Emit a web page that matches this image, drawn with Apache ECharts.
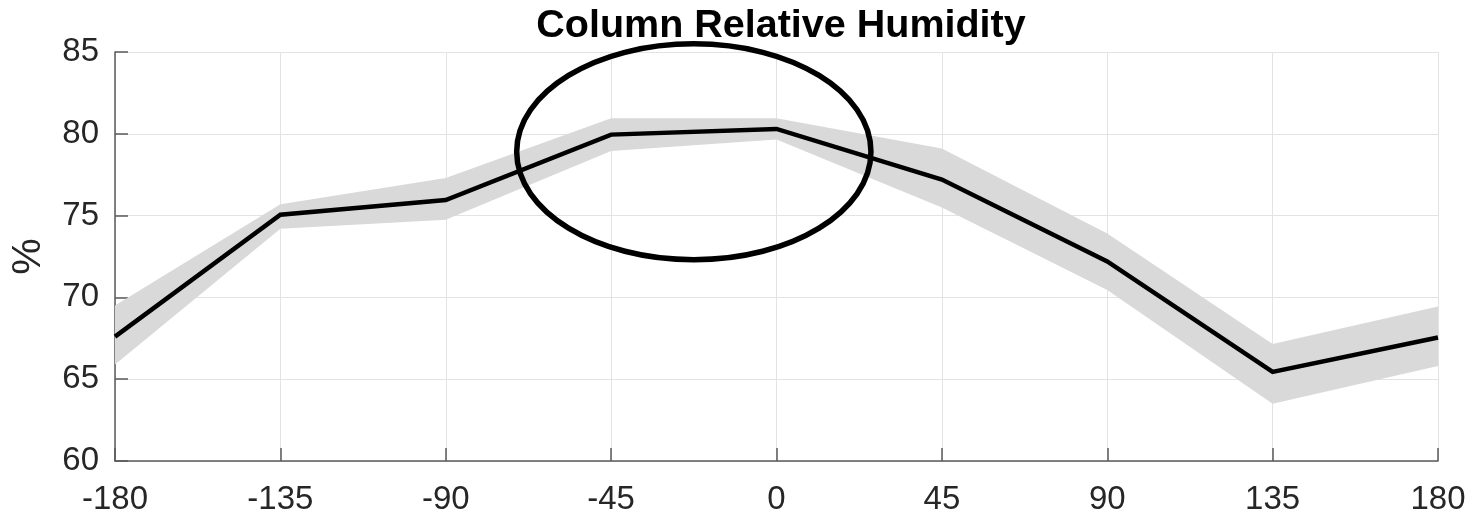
<!DOCTYPE html>
<html>
<head>
<meta charset="utf-8">
<script src="https://cdn.jsdelivr.net/npm/echarts@6/dist/echarts.min.js"></script>
<style>
  html, body { margin: 0; padding: 0; background: #fff; }
  #chart { width: 1470px; height: 518px; }
</style>
</head>
<body>
<div id="chart"></div>
<script>
// Longitude offsets (degrees)
const lon = [-180, -135, -90, -45, 0, 45, 90, 135, 180];
// Mean column relative humidity (%)
const meanRH = [67.6, 75.05, 75.95, 79.95, 80.3, 77.2, 72.2, 65.45, 67.55];
// Spread envelope (%)
const upperRH = [69.5, 75.7, 77.3, 80.95, 80.95, 79.1, 73.9, 67.15, 69.45];
const lowerRH = [65.9, 74.2, 74.75, 78.95, 79.65, 75.5, 70.45, 63.5, 65.8];
// Highlighted region (data units): centre and half-widths
const hiliteCenter = [-22.5, 78.9];
const hiliteRadius = [48.2, 6.6];

const xTicks = { min: -180, max: 180, interval: 45 };
const yTicks = { min: 60, max: 85, interval: 5 };

const fontFamily = '"Liberation Sans", Arial, Helvetica, sans-serif';
const chart = echarts.init(document.getElementById('chart'), null, { renderer: 'canvas' });

const meanPts = lon.map((x, i) => [x, meanRH[i]]);

const option = {
  animation: false,
  backgroundColor: '#ffffff',
  title: {
    text: 'Column Relative Humidity',
    left: 776,
    textAlign: 'center',
    top: 1,
    textStyle: { fontFamily, fontWeight: 'bold', fontSize: 39.5, color: '#000' }
  },
  grid: { left: 115, right: 32, top: 52, bottom: 57, containLabel: false, outerBoundsMode: 'none' },
  xAxis: {
    type: 'value',
    min: xTicks.min, max: xTicks.max, interval: xTicks.interval,
    axisLine: { show: true, onZero: false, lineStyle: { color: '#5a5a5a', width: 1.5 } },
    axisTick: { show: true, inside: true, length: 13, lineStyle: { color: '#5a5a5a', width: 1.5 } },
    axisLabel: { color: '#262626', fontSize: 33, fontFamily, margin: 22 },
    splitLine: { show: true, lineStyle: { color: '#e3e3e3', width: 1 } }
  },
  yAxis: {
    type: 'value',
    min: yTicks.min, max: yTicks.max, interval: yTicks.interval,
    axisLine: { show: true, onZero: false, lineStyle: { color: '#5a5a5a', width: 1.5 } },
    axisTick: { show: true, inside: true, length: 13, lineStyle: { color: '#5a5a5a', width: 1.5 } },
    axisLabel: { color: '#262626', fontSize: 33, fontFamily, margin: 16 },
    splitLine: { show: true, lineStyle: { color: '#e3e3e3', width: 1 } }
  },
  series: [
    {
      // shaded envelope between lower and upper bounds
      type: 'custom',
      name: 'spread',
      data: [0],
      silent: true,
      z: 1,
      clip: true,
      renderItem: function (params, api) {
        const pts = [];
        for (let i = 0; i < lon.length; i++) pts.push(api.coord([lon[i], upperRH[i]]));
        for (let i = lon.length - 1; i >= 0; i--) pts.push(api.coord([lon[i], lowerRH[i]]));
        return {
          type: 'polygon',
          shape: { points: pts },
          style: { fill: '#d9d9d9', stroke: null }
        };
      }
    },
    {
      type: 'line',
      name: 'mean',
      data: meanPts,
      showSymbol: false,
      symbol: 'none',
      z: 3,
      lineStyle: { color: '#000', width: 4.5, join: 'miter' }
    }
  ]
};

chart.setOption(option);

// Outline ellipse around the peak region, plus the y-axis unit label
const c = chart.convertToPixel({ gridIndex: 0 }, hiliteCenter);
const edge = chart.convertToPixel({ gridIndex: 0 },
  [hiliteCenter[0] + hiliteRadius[0], hiliteCenter[1] + hiliteRadius[1]]);
const midY = chart.convertToPixel({ gridIndex: 0 }, [0, (yTicks.min + yTicks.max) / 2])[1];
chart.setOption({
  graphic: [
    {
      type: 'ellipse',
      z: 10,
      shape: { cx: c[0], cy: c[1], rx: Math.abs(edge[0] - c[0]), ry: Math.abs(edge[1] - c[1]) },
      style: { fill: null, stroke: '#000', lineWidth: 5.5 }
    },
    {
      type: 'text',
      x: 29,
      y: midY,
      rotation: Math.PI / 2,
      style: {
        text: '%',
        fontSize: 41,
        fontFamily,
        fill: '#262626',
        align: 'center',
        verticalAlign: 'middle'
      }
    }
  ]
});
</script>
</body>
</html>
